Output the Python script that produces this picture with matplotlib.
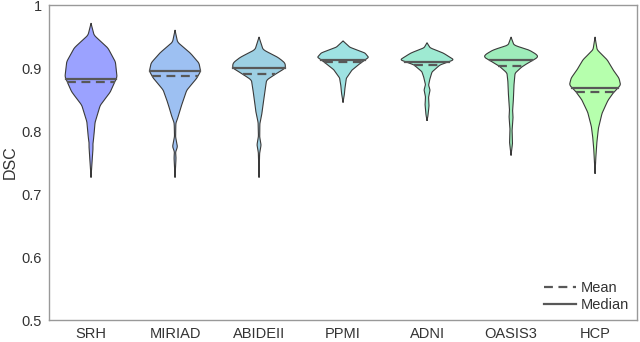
import numpy as np
import matplotlib
matplotlib.use('Agg')
import matplotlib.pyplot as plt
from matplotlib.lines import Line2D

plt.rcParams['font.family'] = ['Liberation Sans', 'DejaVu Sans']

# dataset names and summary stats
datasets = ['SRH', 'MIRIAD', 'ABIDEII', 'PPMI', 'ADNI', 'OASIS3', 'HCP']
means = [0.878, 0.887, 0.890, 0.910, 0.905, 0.904, 0.862]
medians = [0.882, 0.895, 0.900, 0.913, 0.910, 0.912, 0.868]
colors = ['#9ba2ff', '#9dc0f2', '#9dd0e3', '#9ee2e2', '#9eead2', '#9eecba', '#b6ffad']

# violin outlines: DSC value -> half width (in category units), top to bottom
prof_y = {
    'SRH':     [0.971, 0.952, 0.932, 0.910, 0.886, 0.862, 0.841, 0.814, 0.789, 0.780, 0.773, 0.751, 0.727],
    'MIRIAD':  [0.960, 0.941, 0.924, 0.908, 0.895, 0.884, 0.865, 0.844, 0.822, 0.813, 0.791, 0.775, 0.767, 0.758, 0.741, 0.727],
    'ABIDEII': [0.949, 0.929, 0.917, 0.908, 0.900, 0.892, 0.881, 0.854, 0.829, 0.813, 0.791, 0.778, 0.765, 0.727],
    'PPMI':    [0.943, 0.933, 0.924, 0.917, 0.908, 0.897, 0.884, 0.870, 0.860, 0.846],
    'ADNI':    [0.940, 0.932, 0.924, 0.917, 0.913, 0.905, 0.894, 0.884, 0.873, 0.865, 0.854, 0.841, 0.825, 0.817],
    'OASIS3':  [0.949, 0.936, 0.929, 0.921, 0.917, 0.909, 0.902, 0.892, 0.876, 0.854, 0.833, 0.822, 0.802, 0.781, 0.762],
    'HCP':     [0.949, 0.929, 0.913, 0.897, 0.884, 0.873, 0.862, 0.849, 0.829, 0.806, 0.786, 0.765, 0.733],
}
prof_w = {
    'SRH':     [0.0, 0.036, 0.20, 0.29, 0.31, 0.23, 0.11, 0.048, 0.032, 0.022, 0.024, 0.012, 0.0],
    'MIRIAD':  [0.0, 0.030, 0.18, 0.285, 0.305, 0.26, 0.14, 0.085, 0.036, 0.010, 0.006, 0.030, 0.006, 0.012, 0.006, 0.0],
    'ABIDEII': [0.0, 0.048, 0.225, 0.31, 0.315, 0.215, 0.09, 0.06, 0.036, 0.010, 0.007, 0.025, 0.007, 0.0],
    'PPMI':    [0.0, 0.080, 0.26, 0.305, 0.21, 0.108, 0.040, 0.024, 0.018, 0.0],
    'ADNI':    [0.0, 0.036, 0.19, 0.275, 0.32, 0.155, 0.06, 0.036, 0.018, 0.036, 0.018, 0.024, 0.012, 0.0],
    'OASIS3':  [0.0, 0.036, 0.21, 0.31, 0.32, 0.215, 0.13, 0.048, 0.036, 0.030, 0.018, 0.024, 0.012, 0.018, 0.0],
    'HCP':     [0.0, 0.024, 0.145, 0.215, 0.285, 0.305, 0.225, 0.155, 0.085, 0.042, 0.024, 0.012, 0.0],
}

fig = plt.figure(figsize=(6.4, 3.42), dpi=100)
ax = fig.add_axes([0.0766, 0.0643, 0.9188, 0.921])

edge = '#3a3a3a'
stat_col = '#585858'
for i, name in enumerate(datasets):
    ys = np.array(prof_y[name])[::-1]
    ws = np.array(prof_w[name])[::-1]
    # densify and lightly smooth the outline
    yy = np.linspace(ys[0], ys[-1], 400)
    ww = np.interp(yy, ys, ws)
    k = np.ones(11) / 11
    ww_s = np.convolve(np.pad(ww, 5, mode='edge'), k, mode='valid')
    ww_s[0] = 0
    ww_s[-1] = 0
    ax.fill_betweenx(yy, i - ww_s, i + ww_s, facecolor=colors[i], edgecolor='none', zorder=2)
    xs = np.concatenate([i - ww_s, (i + ww_s)[::-1]])
    yl = np.concatenate([yy, yy[::-1]])
    ax.plot(xs, yl, color=edge, lw=0.8, zorder=3)
    wm = np.interp(medians[i], yy, ww_s)
    ax.plot([i - wm, i + wm], [medians[i], medians[i]], color=stat_col, lw=1.6, zorder=4)
    wn = np.interp(means[i], yy, ww_s)
    ax.plot([i - wn, i + wn], [means[i], means[i]], color=stat_col, lw=1.6,
            dashes=(4, 2.5), zorder=4)

ax.set_xlim(-0.5, len(datasets) - 0.5)
ax.set_ylim(0.5, 1.0)
ax.set_xticks(range(len(datasets)))
ax.set_xticklabels(datasets)
ax.set_yticks([0.5, 0.6, 0.7, 0.8, 0.9, 1.0])
ax.set_yticklabels(['0.5', '0.6', '0.7', '0.8', '0.9', '1'])
ax.tick_params(length=0, labelsize=10.5, colors='#333333', pad=5)
ax.set_ylabel('DSC', fontsize=11.5, color='#333333', labelpad=3)
for s in ax.spines.values():
    s.set_color('#999999')
    s.set_linewidth(1.0)

handles = [Line2D([], [], color=stat_col, lw=1.6, dashes=(4, 2.5)),
           Line2D([], [], color=stat_col, lw=1.6)]
ax.legend(handles, ['Mean', 'Median'], loc='lower right', frameon=False,
          fontsize=10.5, handlelength=2.2, handletextpad=0.3, labelspacing=0.2,
          borderaxespad=0.15, labelcolor='#333333')

fig.savefig('out.png', dpi=100)
